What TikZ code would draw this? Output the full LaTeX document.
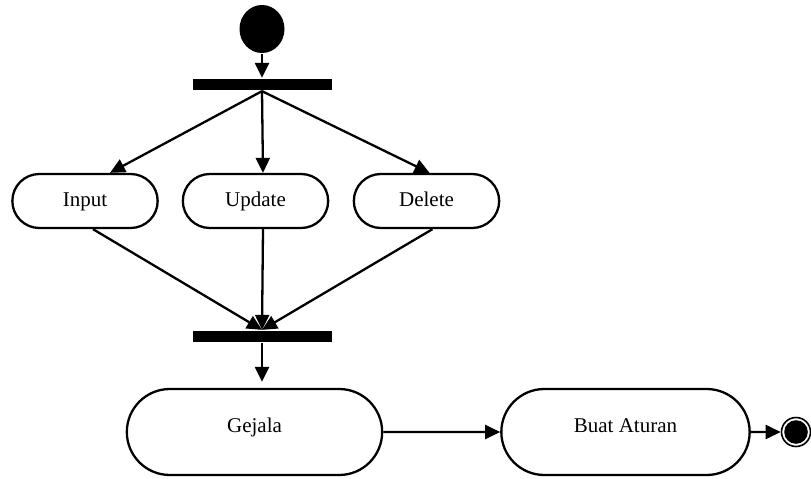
\documentclass[tikz,border=0pt]{standalone}
\usepackage{fontspec}
\setmainfont{Liberation Serif}
\usetikzlibrary{arrows.meta,shapes.misc,shapes.geometric}

\begin{document}
\begin{tikzpicture}[x=1pt, y=-1pt, line width=2.3pt,
  >={Triangle[length=15pt,width=14pt]},
  act/.style={draw, rounded rectangle, minimum width=152pt, minimum height=54pt,
    text height=14pt, text depth=4pt, font=\fontsize{21}{25}\selectfont},
  bigact/.style={act, minimum height=86pt, text depth=14pt},
  bar/.style={fill, minimum width=139pt, minimum height=11pt, inner sep=0pt}]
\useasboundingbox (0,0) rectangle (811,479);

\node [ellipse, fill, minimum width=45pt, minimum height=48pt, inner sep=0pt] (start) at (262,29) {};
\node [bar] (fork) at (262,84.5) {};

\node [act] (input) at (85,201) {Input};
\node [act] (update) at (255.5,201) {Update};
\node [act] (delete) at (426.5,201) {Delete};

\node [bar] (join) at (262,336.5) {};

\node [bigact, minimum width=262pt] (gejala) at (254.5,432) {Gejala};
\node [bigact, minimum width=255pt] (aturan) at (625.5,432) {Buat Aturan};
\node [circle, draw, line width=1.6pt, minimum size=29pt, inner sep=0pt,
  path picture={\fill (path picture bounding box.center) circle (11.8pt);}] (finish) at (796,432) {};

\draw [->] (start) to (fork);

\draw [->] (fork.south) to ([xshift=25pt]input.north);
\draw [->] (fork.south) to ([xshift=7.5pt]update.north);
\draw [->] (fork.south) to ([xshift=3pt]delete.north);

\draw [->] ([xshift=8pt]input.south) to (join.north);
\draw [->] ([xshift=7.5pt]update.south) to (join.north);
\draw [->] ([xshift=6pt]delete.south) to (join.north);

\draw [->, shorten >= 6pt] (join.south) to (join.south |- gejala.north);
\draw [->] (gejala) to (aturan);
\draw [->] (aturan) to (finish);
\end{tikzpicture}
\end{document}
